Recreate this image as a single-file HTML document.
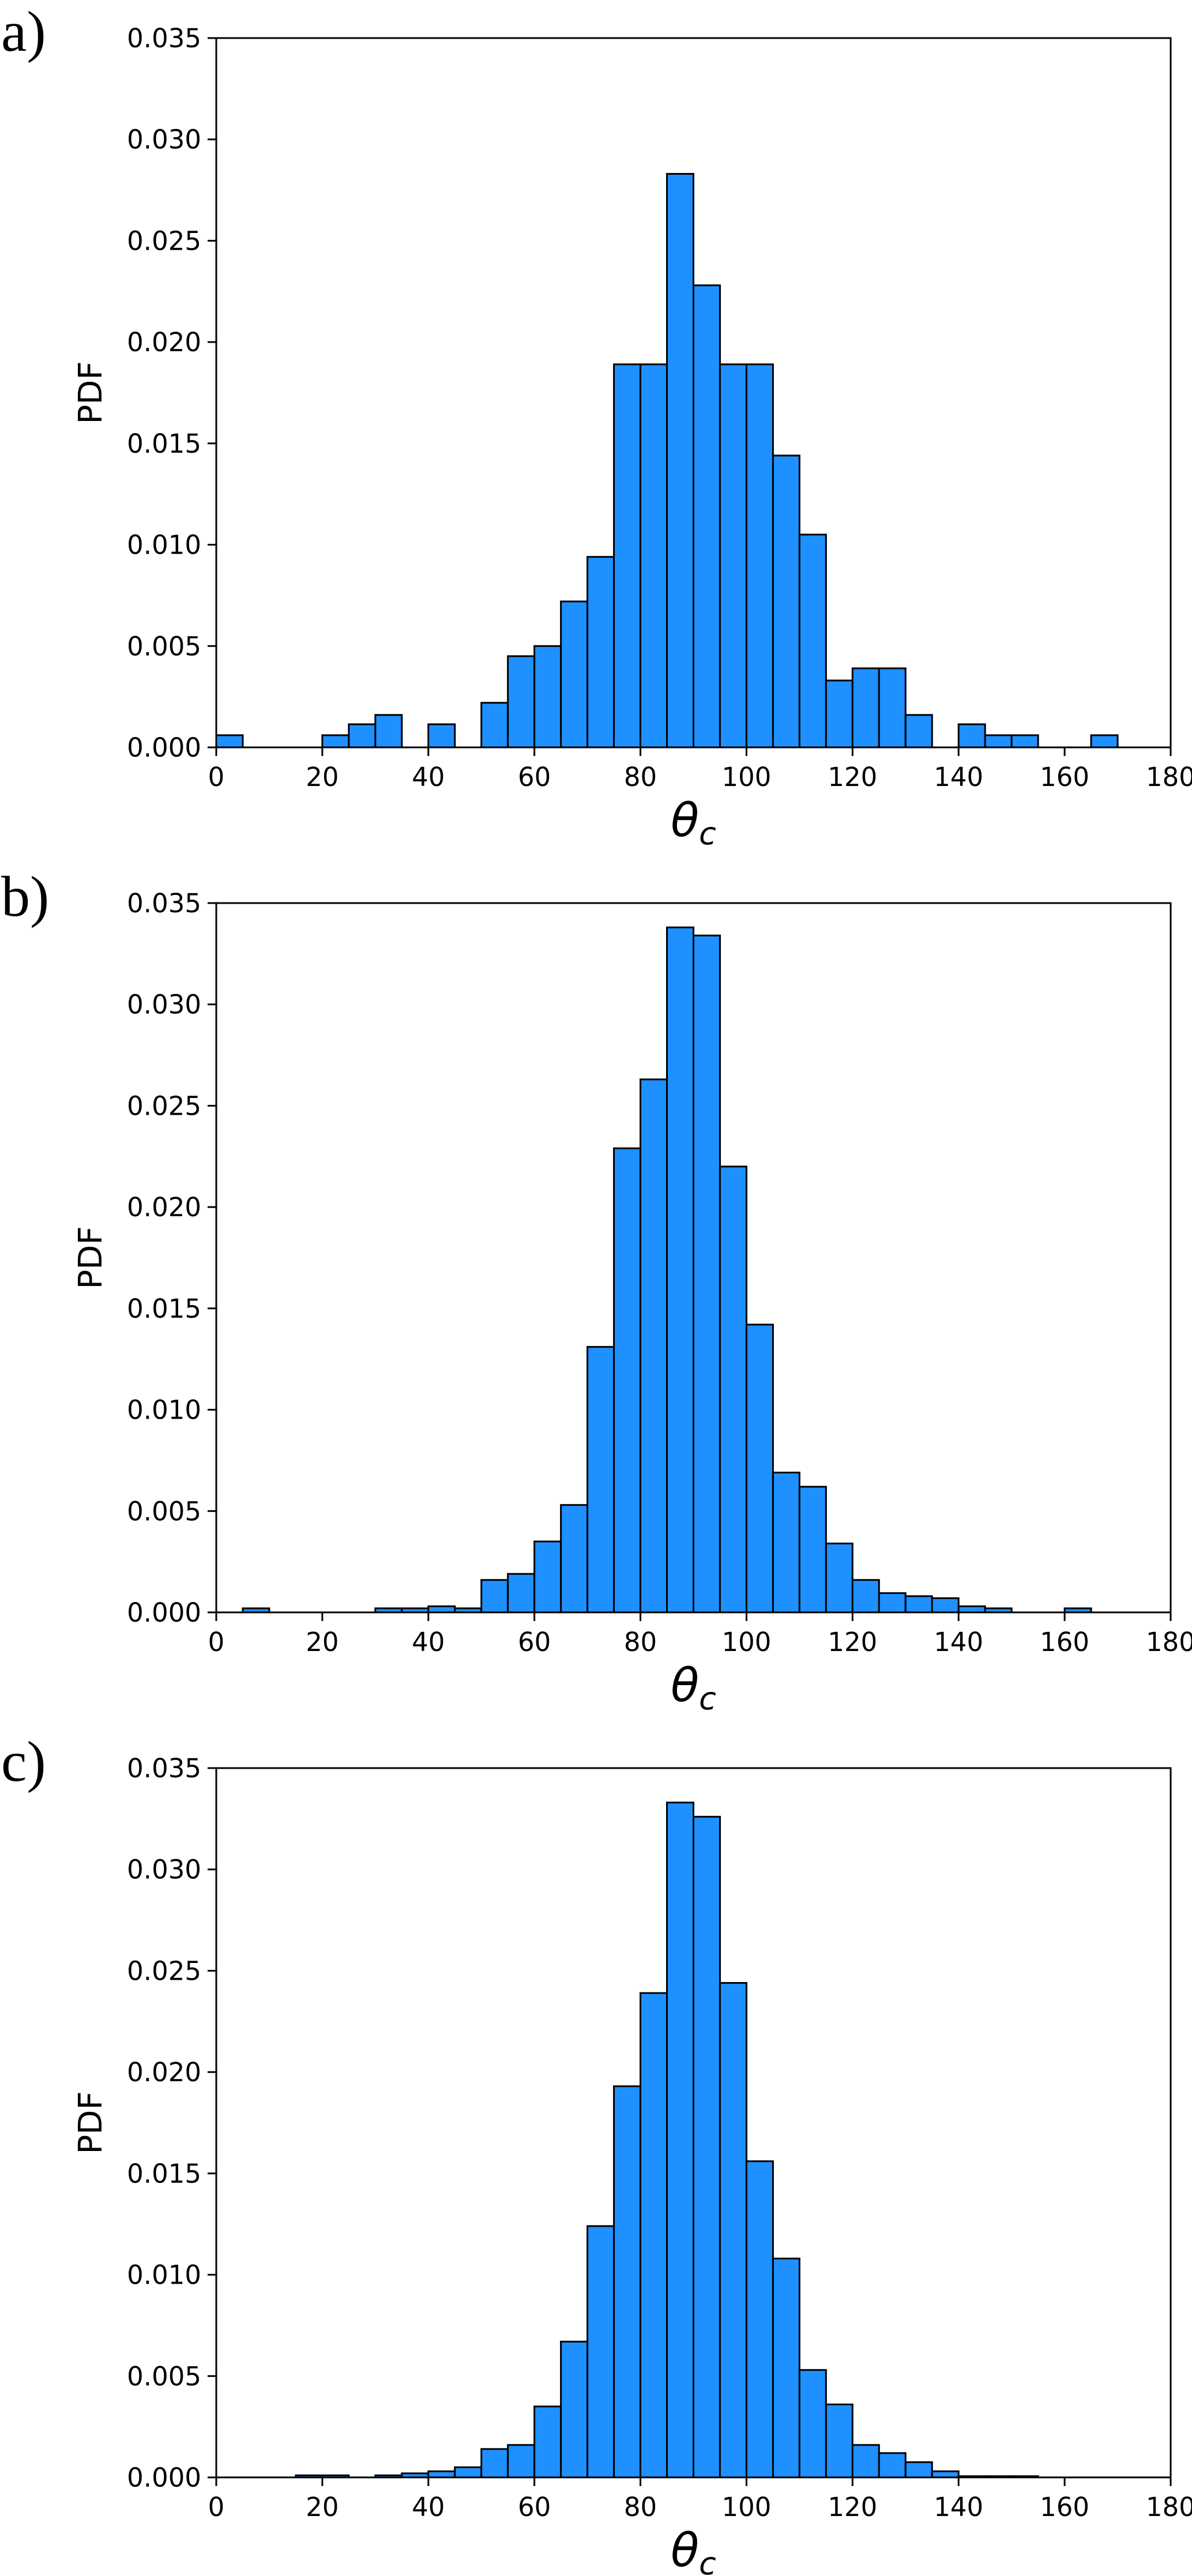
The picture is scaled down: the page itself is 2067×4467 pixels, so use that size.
<!DOCTYPE html>
<html><head><meta charset="utf-8"><style>
html,body{margin:0;padding:0;background:#fff;}
svg{display:block;}
text{font-family:"DejaVu Sans","Liberation Sans",sans-serif;}
</style></head><body>
<svg id="fig" width="2067" height="4467" viewBox="0 0 2067 4467" xmlns="http://www.w3.org/2000/svg"></svg>
<script>
const binStarts = [0,5,10,15,20,25,30,35,40,45,50,55,60,65,70,75,80,85,90,95,100,105,110,115,120,125,130,135,140,145,150,155,160,165,170,175];
const seriesA = [0.0006,0,0,0,0.0006,0.00114,0.0016,0,0.00114,0,0.0022,0.0045,0.0050,0.0072,0.0094,0.0189,0.0189,0.0283,0.0228,0.0189,0.0189,0.0144,0.0105,0.0033,0.0039,0.0039,0.0016,0,0.00114,0.0006,0.0006,0,0,0.0006,0,0];
const seriesB = [0,0.0002,0,0,0,0,0.0002,0.0002,0.0003,0.0002,0.0016,0.0019,0.0035,0.0053,0.0131,0.0229,0.0263,0.0338,0.0334,0.0220,0.0142,0.0069,0.0062,0.0034,0.0016,0.00095,0.0008,0.0007,0.0003,0.0002,0,0,0.0002,0,0,0];
const seriesC = [0,0,0,0.0001,0.0001,0,0.0001,0.0002,0.0003,0.0005,0.0014,0.0016,0.0035,0.0067,0.0124,0.0193,0.0239,0.0333,0.0326,0.0244,0.0156,0.0108,0.0053,0.0036,0.0016,0.0012,0.00075,0.0003,0.00006,0.00006,0.00006,0,0,0,0,0];
const xTicks = [0,20,40,60,80,100,120,140,160,180];
const yTicks = ["0.000","0.005","0.010","0.015","0.020","0.025","0.030","0.035"];
const panelLabels = ["a)","b)","c)"];
const binWidth = 5;

const NS = "http://www.w3.org/2000/svg";
const svg = document.getElementById("fig");
function mk(tag, attrs, parent){const e=document.createElementNS(NS,tag);for(const k in attrs)e.setAttribute(k,attrs[k]);(parent||svg).appendChild(e);return e;}

const L=375, R=2030, H=1230, XMAX=180, YMAX=0.035;
const tops=[66,1566,3066];
const allSeries=[seriesA,seriesB,seriesC];

allSeries.forEach((vals,p)=>{
  const T=tops[p], B=T+H;
  const xs=v=>L+(v/XMAX)*(R-L);
  const ys=v=>B-(v/YMAX)*H;
  const g=mk("g",{});
  
  
  vals.forEach((v,i)=>{
    if(v<=0) return;
    const x0=xs(binStarts[i]), x1=xs(binStarts[i]+binWidth), y=ys(v);
    const r=mk("rect",{x:x0,y:y,width:x1-x0,height:B-y,fill:"#1E90FF",stroke:"#000","stroke-width":3},g);
    
    
  });
  const fr=mk("rect",{x:L,y:T,width:R-L,height:H,fill:"none",stroke:"#000","stroke-width":3},g);
  
  
  yTicks.forEach(t=>{
    const y=ys(parseFloat(t));
    mk("line",{x1:L-15,x2:L,y1:y,y2:y,stroke:"#000","stroke-width":3},g);
    const tx=mk("text",{x:L-26,y:y+16,"text-anchor":"end","font-size":45,fill:"#000"},g);
    tx.textContent=t;
    
    
  });
  xTicks.forEach(t=>{
    const x=xs(t);
    mk("line",{x1:x,x2:x,y1:B,y2:B+15,stroke:"#000","stroke-width":3},g);
    const tx=mk("text",{x:x,y:B+67,"text-anchor":"middle","font-size":45,fill:"#000"},g);
    tx.textContent=t;
    
    
  });
  const yl=mk("text",{x:0,y:0,"text-anchor":"middle","font-size":56,fill:"#000",transform:`translate(176,${T+H/2}) rotate(-90)`},g);
  yl.textContent="PDF";
  
  
  const xl=mk("text",{x:(L+R)/2,y:B+154,"text-anchor":"middle","font-size":80,"font-style":"italic",fill:"#000"},g);
  xl.textContent="θ";
  const sub=mk("tspan",{"font-size":54,dy:14},xl);
  sub.textContent="c";
  
  
  const pl=mk("text",{x:2,y:T+22,"font-size":100,fill:"#000",style:"font-family:'Liberation Serif',serif"},g);
  pl.textContent=panelLabels[p];
  
  
});
</script>
</body></html>
